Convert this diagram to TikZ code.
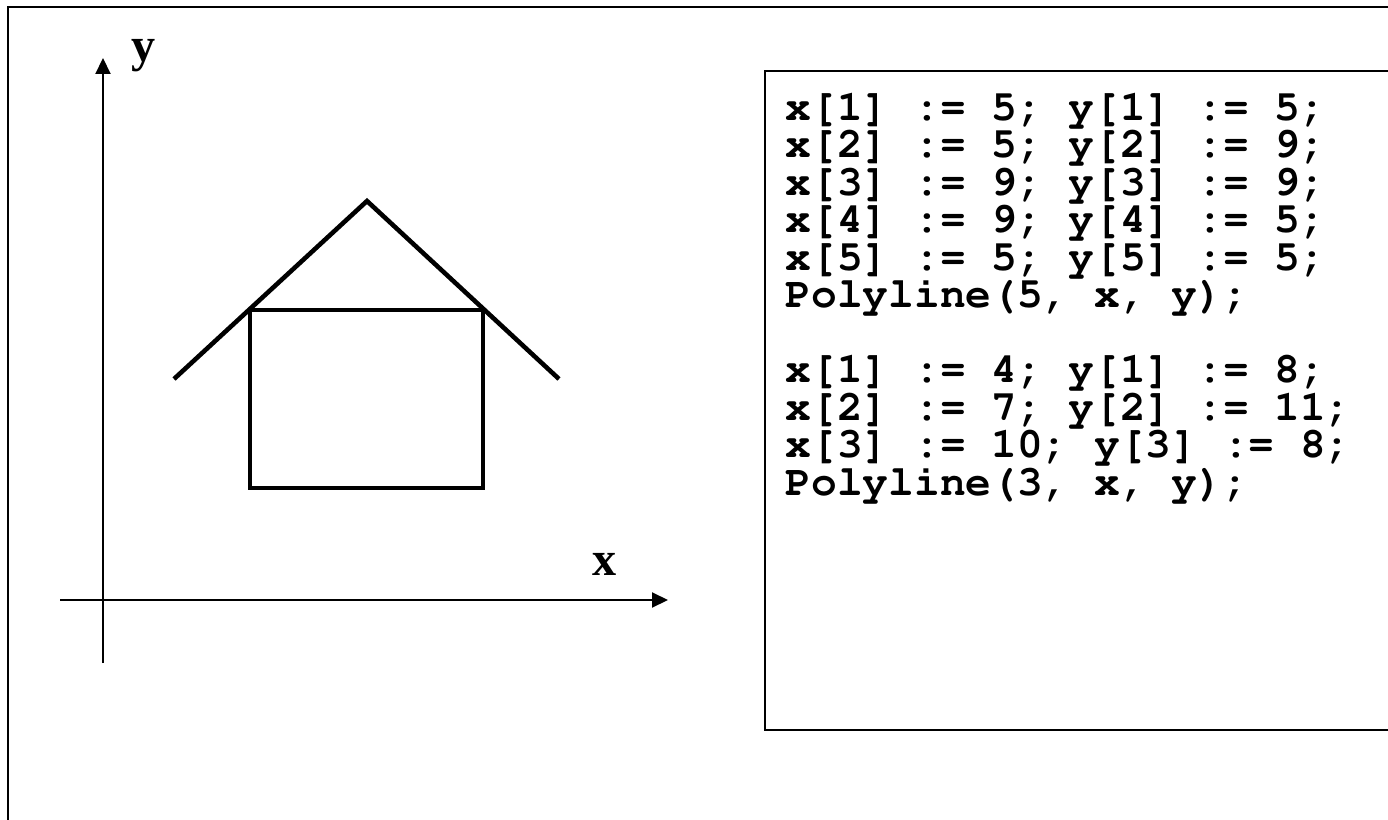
\documentclass[tikz,border=0pt]{standalone}
\usepackage{fontspec}
\setmainfont{Liberation Serif}
\usepackage{tikz}
\usetikzlibrary{arrows.meta,calc,positioning}
\frenchspacing
\newcommand{\codefont}{\fontencoding{T1}\fontfamily{pcr}\fontseries{b}\fontsize{12.2}{12}\selectfont}
\tikzset{
  frameline/.style={line width=0.6pt},
  axisline/.style={line width=0.6pt,-{Triangle[length=0.16cm,width=0.15cm]}},
  houseline/.style={line width=1.3pt},
  axislabel/.style={font=\fontsize{13.7}{14}\selectfont\bfseries,inner sep=0pt,anchor=base},
  codeline/.style={font=\codefont,inner sep=0pt,anchor=base west},
}

\begin{document}
\begin{tikzpicture}
  \useasboundingbox (0,0) rectangle (13.88,8.19);
  \clip (0,0) rectangle (13.88,8.19);
  % frame
  \draw[frameline] (0.08,-0.5) -- (0.08,8.12) -- (14.5,8.12);
  % axes
  \coordinate (ybot) at (1.03,1.56);
  \coordinate (ytop) at (1.03,7.61);
  \coordinate (xleft) at (0.60,2.19);
  \coordinate (xright) at (6.68,2.19);
  \draw[axisline] (ybot) -- (ytop);
  \draw[axisline] (xleft) -- (xright);
  \node[axislabel] (ylab) at (1.44,7.57) {y};
  \node[axislabel] (xlab) at (6.05,2.44) {x};
  % house
  \draw[houseline] (2.50,5.09) rectangle (4.83,3.31);
  \draw[houseline] (1.74,4.40) -- (3.67,6.18) -- (5.59,4.40);
  % code
  \draw[frameline] (14.5,7.48) -- (7.65,7.48) -- (7.65,0.89) -- (14.5,0.89);
  \foreach \i/\txt in {0/{x[1] := 5; y[1] := 5;},
                       1/{x[2] := 5; y[2] := 9;},
                       2/{x[3] := 9; y[3] := 9;},
                       3/{x[4] := 9; y[4] := 5;},
                       4/{x[5] := 5; y[5] := 5;},
                       5/{Polyline(5, x, y);},
                       7/{x[1] := 4; y[1] := 8;},
                       8/{x[2] := 7; y[2] := 11;},
                       9/{x[3] := 10; y[3] := 8;},
                       10/{Polyline(3, x, y);}}
    \node[codeline] (code\i) at (7.85,6.99-0.375*\i) {\txt};
\end{tikzpicture}
\end{document}
